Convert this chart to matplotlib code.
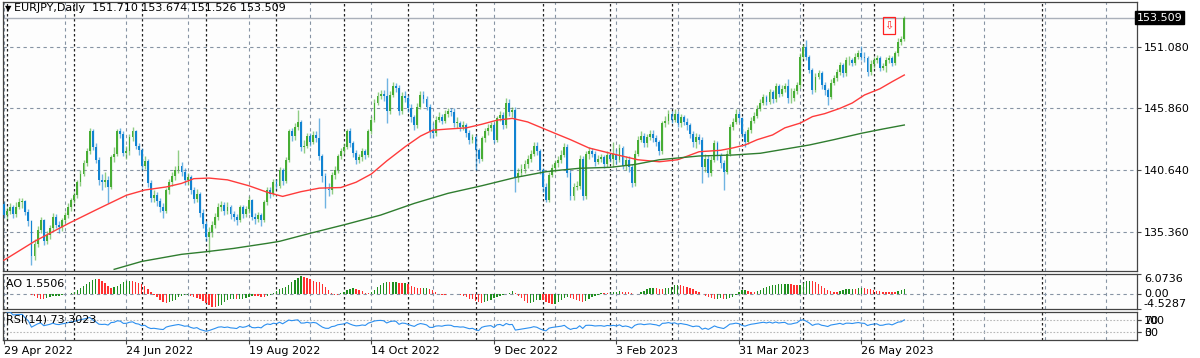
import numpy as np
import pandas as pd
import matplotlib
matplotlib.use("Agg")
import matplotlib.pyplot as plt
from matplotlib.patches import Rectangle

# EURJPY daily, 29 Apr 2022 .. 15 Jun 2023 (bar index = trading day)
first_open = 137.75
closes = [136.8, 137.2, 137.5, 136.9, 137.5, 137.9, 138.0, 137.1, 136.3, 133.4,
          134.4, 135.6, 136.4, 134.6, 135.1, 135.7, 136.7, 136.0, 135.8, 136.4,
          136.8, 137.5, 138.1, 138.5, 139.6, 140.3, 141.2, 142.2, 143.9, 142.6,
          141.5, 139.8, 139.6, 139.8, 139.2, 141.7, 142.0, 143.9, 143.7, 142.1,
          142.2, 143.4, 143.9, 142.7, 142.3, 141.0, 141.4, 139.5, 138.3, 138.5,
          138.0, 137.5, 137.2, 138.9, 139.6, 140.1, 140.6, 141.0, 140.5, 139.8,
          140.0, 138.9, 138.2, 138.6, 137.0, 136.1, 135.0, 135.4, 136.0, 136.7,
          137.5, 137.7, 137.2, 137.5, 136.9, 136.7, 136.4, 137.5, 136.95, 137.3,
          138.1, 136.7, 136.5, 136.8, 136.4, 137.9, 138.9, 138.6, 139.6, 139.3,
          140.6, 139.7, 141.5, 143.9, 143.5, 144.3, 144.7, 142.6, 142.7, 143.5,
          143.0, 143.6, 143.3, 141.8, 140.1, 139.0, 138.9, 140.2, 140.6, 141.8,
          142.2, 142.6, 143.9, 142.9, 142.05, 141.5, 141.7, 142.2, 141.9, 143.9,
          144.9, 146.3, 146.9, 147.1, 146.9, 145.6, 147.0, 147.7, 147.6, 145.6,
          146.9, 146.7, 145.9, 145.1, 144.4, 146.0, 147.0, 146.6, 146.0, 143.9,
          143.8, 144.9, 145.1, 144.8, 145.4, 145.6, 145.5, 144.6, 144.6, 144.3,
          144.4, 143.8, 143.2, 143.4, 142.3, 141.6, 143.3, 143.9, 144.2, 144.4,
          143.2, 145.0, 145.3, 144.4, 146.3, 145.5, 145.7, 140.0, 140.4, 140.7,
          141.1, 141.6, 142.0, 142.7, 142.2, 140.6, 139.2, 138.1, 140.2, 140.8,
          141.2, 141.5, 141.9, 142.6, 140.35, 138.4, 139.2, 139.3, 141.6, 138.4,
          142.0, 142.2, 142.0, 141.35, 141.6, 141.7, 141.1, 141.9, 141.6, 142.0,
          141.5, 142.5, 141.0, 141.5, 140.9, 139.5, 142.0, 143.2, 143.5, 142.9,
          143.4, 143.7, 143.3, 143.0, 142.2, 144.6, 144.8, 145.4, 144.9, 145.4,
          144.6, 145.1, 144.7, 144.4, 143.7, 143.0, 143.4, 143.2, 140.9, 141.6,
          140.4, 141.5, 142.9, 141.8, 141.2, 140.5, 142.0, 144.3, 144.7, 145.4,
          145.0, 143.7, 143.0, 144.0, 144.8, 145.2, 145.8, 146.3, 146.8, 146.4,
          147.2, 146.6, 147.7, 147.1, 147.5, 147.7, 146.7, 146.7, 147.3, 147.8,
          150.2, 151.0, 150.2, 149.1, 147.4, 148.5, 148.8, 147.8, 147.4, 146.8,
          148.0, 148.4, 148.9, 149.5, 148.8, 149.9, 149.9, 149.7, 150.2, 150.5,
          150.2, 150.1, 148.95, 149.6, 149.9, 150.1, 149.3, 149.4, 149.9, 150.1,
          149.7, 150.5, 151.5, 151.71, 153.509]
highs = [138.0, 137.5, 137.8, 137.7, 137.9, 138.3, 138.3, 138.1, 137.3, 136.4,
         134.8, 135.9, 136.7, 136.5, 135.5, 136.0, 137.0, 136.9, 136.3, 136.6,
         137.1, 137.8, 138.3, 138.8, 139.8, 140.6, 141.5, 142.5, 144.2, 144.1,
         142.9, 141.7, 140.3, 140.5, 140.1, 141.9, 142.6, 144.1, 144.2, 143.9,
         142.7, 143.7, 144.3, 144.0, 142.9, 142.5, 141.8, 141.6, 139.8, 138.9,
         138.8, 138.3, 137.8, 139.1, 139.9, 140.5, 141.0, 142.3, 141.3, 140.8,
         140.4, 140.2, 139.2, 139.0, 138.8, 137.3, 136.3, 135.8, 136.3, 137.0,
         137.8, 138.0, 137.9, 137.9, 137.7, 137.2, 136.9, 137.7, 137.7, 137.6,
         138.4, 138.2, 137.0, 137.1, 137.0, 138.1, 139.2, 139.2, 139.9, 139.9,
         140.9, 140.8, 141.7, 144.1, 144.2, 144.6, 145.7, 144.9, 143.2, 143.8,
         143.8, 143.9, 143.9, 145.0, 142.0, 140.4, 139.5, 140.5, 141.0, 142.0,
         142.5, 142.9, 144.1, 144.2, 143.1, 142.3, 142.0, 142.5, 142.4, 144.1,
         145.2, 146.6, 147.2, 147.4, 147.4, 148.4, 147.3, 148.1, 148.0, 147.8,
         147.2, 147.3, 147.0, 146.2, 145.3, 146.3, 147.3, 147.3, 146.9, 146.2,
         144.6, 145.2, 145.5, 145.4, 145.7, 145.9, 145.9, 145.9, 145.1, 144.8,
         144.8, 144.6, 144.0, 143.7, 143.6, 142.5, 143.5, 144.2, 144.5, 144.7,
         144.6, 145.2, 145.6, 145.5, 146.7, 146.6, 146.0, 146.0, 140.8, 141.1,
         141.5, 141.9, 142.3, 143.0, 143.0, 142.4, 140.8, 139.5, 140.5, 141.1,
         141.5, 141.8, 142.3, 142.9, 142.8, 140.6, 139.5, 139.7, 141.9, 141.8,
         142.2, 142.6, 142.5, 142.2, 141.9, 142.0, 141.9, 142.2, 142.1, 143.0,
         142.4, 142.8, 142.7, 141.8, 141.8, 141.1, 142.3, 143.5, 143.9, 143.8,
         143.7, 144.0, 144.0, 143.6, 143.2, 144.8, 145.2, 145.7, 145.6, 145.8,
         145.6, 145.4, 145.3, 145.0, 144.6, 143.9, 143.8, 143.7, 143.4, 142.0,
         141.9, 141.8, 143.2, 143.1, 142.1, 141.5, 142.3, 144.5, 145.0, 145.8,
         145.6, 145.1, 143.9, 144.3, 145.1, 145.5, 146.1, 146.6, 147.1, 147.0,
         147.5, 147.4, 148.0, 147.9, 147.8, 148.0, 148.3, 147.6, 147.6, 148.1,
         150.5, 151.3, 151.6, 150.4, 149.3, 148.8, 149.1, 149.0, 148.1, 147.6,
         148.3, 148.7, 149.2, 149.8, 149.7, 150.2, 150.3, 150.1, 150.5, 150.8,
         151.1, 150.6, 150.3, 149.9, 150.2, 150.4, 150.3, 149.7, 150.2, 150.4,
         150.3, 150.7, 151.8, 152.0, 153.674]
lows = [136.6, 136.5, 136.9, 136.6, 136.7, 137.3, 137.4, 136.8, 135.9, 132.6,
        133.0, 134.1, 135.3, 134.3, 134.4, 134.8, 135.5, 135.7, 135.3, 135.5,
        136.2, 136.6, 137.2, 137.8, 138.3, 139.3, 140.1, 141.0, 142.0, 142.3,
        141.2, 139.4, 138.9, 139.2, 137.8, 139.0, 141.3, 141.8, 143.3, 141.8,
        141.6, 141.9, 143.1, 142.4, 141.9, 140.6, 140.7, 139.2, 137.9, 137.9,
        137.6, 137.1, 136.6, 137.0, 138.6, 139.3, 139.8, 140.4, 140.1, 139.4,
        139.4, 138.6, 137.8, 137.9, 136.7, 135.7, 134.6, 133.6, 135.0, 135.7,
        136.4, 137.2, 136.8, 136.9, 136.5, 136.3, 136.0, 136.2, 136.6, 136.7,
        137.0, 136.4, 136.1, 136.2, 135.9, 136.2, 137.7, 138.3, 138.4, 139.0,
        139.1, 139.4, 139.5, 141.3, 143.1, 143.2, 144.0, 142.2, 142.1, 142.5,
        142.7, 142.8, 143.0, 141.5, 139.6, 137.4, 138.4, 138.6, 139.9, 140.4,
        141.6, 142.0, 142.4, 142.6, 141.7, 141.1, 141.2, 141.4, 141.6, 141.7,
        143.7, 144.7, 146.1, 146.6, 146.5, 144.6, 145.4, 146.8, 147.2, 145.3,
        145.4, 146.4, 145.5, 144.7, 144.0, 144.2, 145.8, 146.3, 145.7, 143.3,
        143.3, 143.5, 144.7, 144.5, 144.6, 145.1, 145.2, 144.3, 144.2, 143.9,
        144.0, 143.4, 142.8, 142.9, 140.6, 141.2, 141.4, 143.0, 143.6, 143.9,
        142.9, 143.0, 144.8, 144.1, 144.2, 145.2, 145.1, 138.8, 139.6, 140.1,
        140.4, 140.8, 141.3, 141.8, 141.9, 140.3, 138.8, 137.9, 137.9, 140.0,
        140.5, 140.9, 141.2, 141.7, 140.0, 138.1, 138.1, 138.9, 139.0, 138.1,
        138.2, 141.6, 141.7, 141.0, 141.1, 141.3, 140.8, 140.9, 141.3, 140.9,
        141.1, 141.3, 140.7, 140.6, 140.5, 139.2, 139.3, 141.8, 143.0, 142.6,
        142.6, 143.2, 143.0, 142.7, 141.9, 142.0, 144.3, 144.5, 144.6, 144.7,
        144.3, 144.3, 144.4, 144.0, 143.3, 142.6, 142.5, 142.8, 139.5, 140.5,
        140.0, 140.1, 141.3, 141.5, 140.8, 138.9, 140.3, 141.8, 144.0, 144.5,
        144.7, 143.4, 142.6, 142.8, 143.8, 144.6, 145.0, 145.6, 146.1, 146.1,
        146.2, 146.3, 146.4, 146.8, 146.9, 147.2, 146.3, 146.3, 146.5, 147.1,
        147.6, 150.0, 149.9, 148.8, 147.1, 147.2, 148.3, 147.5, 147.0, 146.1,
        146.6, 147.8, 148.2, 148.7, 148.5, 148.6, 149.5, 149.4, 149.5, 150.0,
        149.9, 149.8, 148.6, 148.7, 149.3, 149.7, 149.0, 149.1, 148.9, 149.7,
        149.4, 149.5, 150.3, 151.2, 151.526]

# moving averages: (bar, value)
ma_red_bar = [0, 10, 21, 30, 40, 46, 53, 58, 62, 67, 73, 80, 86, 91, 97, 103, 110, 115,
              120, 125, 131, 136, 140, 145, 151, 156, 161, 166, 171, 176, 180, 185, 191,
              198, 207, 214, 220, 227, 234, 238, 242, 246, 251, 255, 260, 264, 268, 273,
              277, 281, 286, 290, 294]
ma_red_val = [133.0, 134.6, 136.1, 137.25, 138.5, 138.94, 139.2, 139.5, 139.9, 139.95,
              139.8, 139.3, 138.75, 138.4, 138.8, 139.1, 139.15, 139.6, 140.3, 141.4,
              142.6, 143.5, 144.0, 144.1, 144.2, 144.5, 144.85, 145.0, 144.7, 144.16,
              143.73, 143.2, 142.5, 142.05, 141.5, 141.33, 141.5, 142.18, 142.3, 142.5,
              142.75, 143.2, 143.6, 144.2, 144.6, 145.15, 145.4, 145.85, 146.3, 146.98,
              147.5, 148.1, 148.67]
ma_green_bar = [36, 45, 58, 66, 75, 86, 90, 100, 112, 123, 134, 145, 156, 167, 177, 182,
                188, 198, 206, 214, 227, 238, 247, 255, 263, 271, 280, 287, 294]
ma_green_val = [132.23, 132.9, 133.5, 133.72, 134.0, 134.43, 134.6, 135.28, 136.06,
                136.82, 137.81, 138.66, 139.3, 140.0, 140.49, 140.63, 140.78, 140.86,
                141.1, 141.5, 141.82, 141.9, 142.05, 142.4, 142.75, 143.2, 143.74,
                144.1, 144.44]

price_ticks = [151.080, 145.860, 140.640, 135.360]
bid = 153.509
ao_scale = [6.0736, 0.00, -4.5287]
date_bars = [0, 40, 80, 120, 160, 200, 240, 280]
date_labels = ["29 Apr 2022", "24 Jun 2022", "19 Aug 2022", "14 Oct 2022",
               "9 Dec 2022", "3 Feb 2023", "31 Mar 2023", "26 May 2023"]
month_bars = [1, 23, 45, 66, 89, 111, 132, 154, 176, 198, 218, 241, 261, 284, 310, 339]
arrow_bar, arrow_price = 289, 152.85

title = "EURJPY,Daily  151.710 153.674 151.526 153.509"
ao_text = "AO 1.5506"
rsi_text = "RSI(14) 73.3023"

# ---- derived series
c = np.array(closes)
h = np.array(highs)
l = np.array(lows)
o = np.array([first_open] + closes[:-1])
x = np.arange(len(c))

med = pd.Series((h + l) / 2)
ao = (med.rolling(5, min_periods=1).mean() - med.rolling(34, min_periods=1).mean()).values
delta = pd.Series(c).diff()
gain = delta.clip(lower=0).ewm(alpha=1 / 14, adjust=False).mean()
loss = (-delta.clip(upper=0)).ewm(alpha=1 / 14, adjust=False).mean()
rsi = (100 - 100 / (1 + gain / loss)).values

plt.rcParams['font.family'] = ['DejaVu Sans']
W, H = 1200, 358
fig = plt.figure(figsize=(W / 100, H / 100), dpi=100)
fig.patch.set_facecolor("white")

def box(top, bottom, left=3, right=1137):
    return [left / W, 1 - bottom / H, (right - left) / W, (bottom - top) / H]

ax = fig.add_axes(box(2, 271))
ax_ao = fig.add_axes(box(274, 309), sharex=ax)
ax_rsi = fig.add_axes(box(312, 340), sharex=ax)

xmax = (1137 - 3) / 3.065
grid_kw = dict(color="#8794a4", lw=0.8, linestyle=(0, (3, 3)))
sep_kw = dict(color="#222222", lw=0.9, linestyle=(0, (2, 2)))

for a in (ax, ax_ao, ax_rsi):
    a.set_facecolor("#fdfdfd")
    for s in a.spines.values():
        s.set_color("#444444")
        s.set_linewidth(0.9)
    for gx in range(0, 380, 20):
        a.axvline(gx, zorder=0, **grid_kw)
    for mb in month_bars:
        a.axvline(mb, zorder=0, **sep_kw)
    a.yaxis.tick_right()
    a.tick_params(axis="y", length=3, width=0.8, color="#444444", labelsize=8, pad=2)
    a.tick_params(axis="x", length=0)
    a.set_xlim(-0.3, xmax)

# ---- main panel
ax.set_ylim(132.09, 154.845)
for p in price_ticks:
    ax.axhline(p, zorder=0, **grid_kw)
ax.axhline(bid, color="#aab0ba", lw=1.0, zorder=1)

up = c >= o
col_up, col_dn = "#47ad34", "#1083d1"
colors = np.where(up, col_up, col_dn)
ax.vlines(x, l, h, colors=colors, lw=1.0, alpha=0.6, zorder=2)
body_lo = np.minimum(o, c)
body_h = np.maximum(np.abs(c - o), 0.06)
ax.bar(x, body_h, bottom=body_lo, width=0.62, color=colors, linewidth=0, zorder=3)

ax.plot(ma_red_bar, ma_red_val, color="#ff3b3b", lw=1.0, zorder=4)
ax.plot(ma_green_bar, ma_green_val, color="#2f7d2f", lw=1.0, zorder=4)

ax.set_yticks(price_ticks)
ax.set_yticklabels([f"{p:.3f}" for p in price_ticks])
ax.text(1.0, bid, f"{bid:.3f}", transform=ax.get_yaxis_transform(), ha="left",
        va="center", fontsize=8, color="white",
        bbox=dict(boxstyle="square,pad=0.15", fc="black", ec="black"))

ax.add_patch(Rectangle((arrow_bar - 1.9, arrow_price - 0.75), 3.9, 1.5,
                       fill=False, ec="#ff2020", lw=0.9, zorder=5))
ax.text(arrow_bar + 0.05, arrow_price, "\u21e9", color="#ff2020", fontsize=8,
        ha="center", va="center", zorder=6)

ax.text(0.002, 0.992, "\u25bc", transform=ax.transAxes, fontsize=6, va="top", ha="left")
ax.text(0.0095, 0.995, title, transform=ax.transAxes, fontsize=8, va="top", ha="left")
plt.setp(ax.get_xticklabels(), visible=False)

# ---- AO panel
ao_col = np.where(np.r_[True, np.diff(ao) > 0], "#1f8f1f", "#ff3030")
ax_ao.bar(x, ao, width=0.45, color=ao_col, linewidth=0, zorder=3)
ax_ao.set_ylim(ao_scale[2], ao_scale[0])
ax_ao.axhline(0, zorder=0, **grid_kw)
ax_ao.set_yticks(ao_scale)
ax_ao.set_yticklabels([f"{ao_scale[0]:.4f}", "0.00", f"{ao_scale[2]:.4f}"])
for lab, va in zip(ax_ao.get_yticklabels(), ["top", "center", "bottom"]):
    lab.set_va(va)
ax_ao.text(0.003, 0.72, ao_text, transform=ax_ao.transAxes, fontsize=8, va="center")
plt.setp(ax_ao.get_xticklabels(), visible=False)

# ---- RSI panel
ax_rsi.set_ylim(0, 100)
for lv in (70, 30):
    ax_rsi.axhline(lv, color="#b8b8b8", lw=0.8, linestyle=(0, (1.5, 1.5)), zorder=0)
ax_rsi.plot(x, rsi, color="#2b8ff0", lw=0.8, zorder=3)
ax_rsi.set_yticks([70, 70.01, 30, 30.01])
ax_rsi.set_yticklabels(["70", "100", "30", "0"])
ax_rsi.text(0.003, 0.72, rsi_text, transform=ax_rsi.transAxes, fontsize=8, va="center")

ax_rsi.set_xticks(date_bars)
ax_rsi.set_xticklabels(date_labels)
ax_rsi.tick_params(axis="x", length=3, width=0.8, color="#444444", labelsize=8, pad=1)
for lab in ax_rsi.get_xticklabels():
    lab.set_ha("left")

fig.savefig("out.png", dpi=100)
